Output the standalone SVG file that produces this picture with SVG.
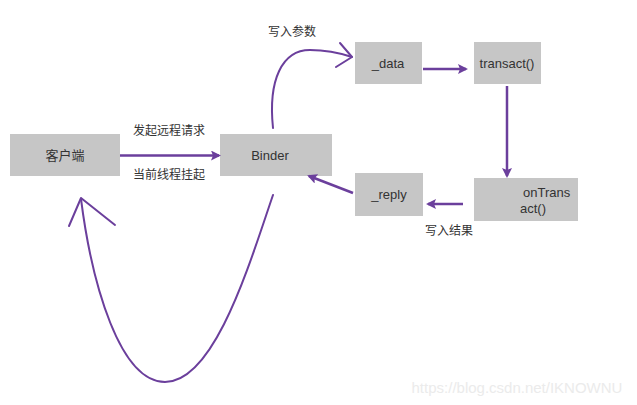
<svg xmlns="http://www.w3.org/2000/svg" width="637" height="405" viewBox="0 0 637 405">
<defs>
<style>
.box{fill:#c6c6c6;}
.t{font-family:"Liberation Sans","Noto Sans CJK SC",sans-serif;font-size:13px;fill:#333;}
.lbl{font-family:"Noto Sans CJK SC","Liberation Sans",sans-serif;font-size:12px;fill:#333;}
.ln{stroke:#6b3f9c;stroke-width:2.5;fill:none;}
.thin{stroke:#6b3f9c;stroke-width:2;fill:none;stroke-linecap:round;stroke-linejoin:round;}
</style>
<marker id="ah" markerWidth="10" markerHeight="10" refX="8" refY="5" orient="auto" markerUnits="userSpaceOnUse">
<path d="M0,0 L10,5 L0,10 L2,5 Z" fill="#6b3f9c"/>
</marker>
</defs>
<rect width="637" height="405" fill="#fff"/>
<g id="client"><rect class="box" x="10" y="134" width="110" height="42"/><text class="t" x="65" y="160" text-anchor="middle" font-family="Noto Sans CJK SC">客户端</text></g>
<g id="binder"><rect class="box" x="220" y="134" width="112" height="42"/><text class="t" x="270" y="160" text-anchor="middle">Binder</text></g>
<g id="data"><rect class="box" x="355" y="42" width="67" height="42"/><text class="t" x="388" y="68" text-anchor="middle">_data</text></g>
<g id="transact"><rect class="box" x="474" y="42" width="67" height="42"/><text class="t" x="507" y="68" text-anchor="middle">transact()</text></g>
<g id="ontransact"><rect class="box" x="474" y="178" width="104" height="43"/><text class="t" x="523" y="197">onTrans</text><text class="t" x="520" y="213">act()</text></g>
<g id="reply"><rect class="box" x="355" y="173" width="68" height="43"/><text class="t" x="389" y="199" text-anchor="middle">_reply</text></g>
<g id="connectors">
<line class="ln" x1="120" y1="155.5" x2="219" y2="155.5" marker-end="url(#ah)"/>
<line class="ln" x1="423" y1="69" x2="466" y2="69" marker-end="url(#ah)"/>
<line class="ln" x1="507" y1="86" x2="507" y2="176" marker-end="url(#ah)"/>
<line class="ln" x1="463" y1="204" x2="428" y2="204" marker-end="url(#ah)"/>
<line class="ln" x1="353" y1="193" x2="309" y2="176" marker-end="url(#ah)"/>
<path class="thin" d="M273,128 C268,80 282,50 310,50 C330,50 343,54 352,57"/>
<polyline class="thin" points="340,43 352,57 336,67"/>
<path class="thin" d="M273,195 C250,262 215,382 165,382 C120,382 92,285 81,199"/>
<polyline class="thin" points="69,226 81,198 115,225"/>
</g>
<text class="lbl" x="292" y="36" text-anchor="middle">写入参数</text>
<text class="lbl" x="169" y="135" text-anchor="middle">发起远程请求</text>
<text class="lbl" x="169" y="179" text-anchor="middle">当前线程挂起</text>
<text class="lbl" x="449" y="235" text-anchor="middle">写入结果</text>
<text x="517" y="393" text-anchor="middle" font-family="Liberation Sans,sans-serif" font-size="15" fill="#ebebeb">https://blog.csdn.net/IKNOWNU</text>
</svg>
